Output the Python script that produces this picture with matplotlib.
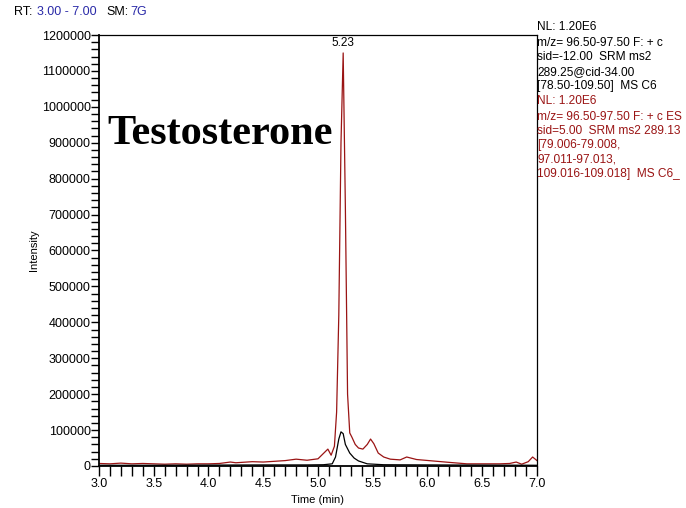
import numpy as np
import matplotlib.pyplot as plt
from matplotlib.ticker import MultipleLocator, FormatStrFormatter

# retention time (min) and intensity
t_red = [3.00, 3.10, 3.20, 3.30, 3.40, 3.50, 3.60, 3.70, 3.80, 3.90, 4.00, 4.10,
         4.20, 4.25, 4.30, 4.40, 4.50, 4.60, 4.70, 4.80, 4.90, 5.00, 5.05, 5.09,
         5.12, 5.15, 5.17, 5.19, 5.21, 5.23, 5.25, 5.27, 5.29, 5.31, 5.34, 5.37,
         5.41, 5.45, 5.48, 5.51, 5.55, 5.60, 5.66, 5.75, 5.81, 5.90, 6.05, 6.20,
         6.36, 6.50, 6.66, 6.75, 6.81, 6.86, 6.92, 6.96, 7.00]
i_red = [7000, 6000, 8000, 6000, 7000, 6000, 5000, 6000, 5000, 6000, 6000, 7000,
         11000, 9000, 10000, 12000, 11000, 13000, 15000, 19000, 16000, 20000, 35000, 47000,
         30000, 55000, 150000, 420000, 900000, 1150000, 720000, 200000, 92000, 80000, 60000, 50000,
         47000, 60000, 75000, 62000, 36000, 25000, 19000, 17000, 25000, 18000, 14000, 10000,
         6000, 6000, 6000, 7000, 11000, 5000, 12000, 25000, 15000]

t_blk = [3.00, 3.50, 4.00, 4.50, 4.90, 5.05, 5.13, 5.16, 5.19, 5.21, 5.23, 5.25,
         5.29, 5.33, 5.37, 5.45, 5.60, 6.00, 6.50, 7.00]
i_blk = [2000, 2000, 2500, 3000, 3000, 3500, 6000, 25000, 75000, 95000, 90000, 60000,
         36000, 22000, 14000, 6000, 3500, 3000, 2500, 2000]

peak_rt = 5.23
peak_val = 1150000

fig = plt.figure(figsize=(6.86, 5.08), dpi=100)
ax = fig.add_axes([0.1443, 0.0827, 0.6385, 0.8484])

red = '#9a1414'
ax.plot(t_red, i_red, color=red, lw=0.9)
ax.plot(t_blk, i_blk, color='black', lw=0.9)

ax.set_xlim(3.0, 7.0)
ax.set_ylim(0, 1200000)
ax.xaxis.set_major_locator(MultipleLocator(0.5))
ax.xaxis.set_minor_locator(MultipleLocator(0.1))
ax.yaxis.set_major_locator(MultipleLocator(100000))
ax.yaxis.set_minor_locator(MultipleLocator(20000))
ax.xaxis.set_major_formatter(FormatStrFormatter('%.1f'))
ax.yaxis.set_major_formatter(FormatStrFormatter('%d'))
ax.tick_params(which='both', direction='out', length=6, width=1, labelsize=9, pad=0)
ax.tick_params(axis='x', which='both', length=7, pad=2)
for s in ['left', 'bottom']:
    ax.spines[s].set_linewidth(1.3)
for s in ['top', 'right']:
    ax.spines[s].set_linewidth(0.9)
for lab in ax.get_xticklabels() + ax.get_yticklabels():
    lab.set_fontfamily('Liberation Sans')

ax.set_xlabel('Time (min)', fontsize=8, family='Liberation Sans', labelpad=3)
ax.set_ylabel('Intensity', fontsize=8, family='Liberation Sans', labelpad=2)

ax.annotate(f'{peak_rt:.2f}', (peak_rt, peak_val), xytext=(0, 3), textcoords='offset points',
            ha='center', va='bottom', fontsize=8.5, family='Liberation Sans')

ax.text(0.02, 0.77, 'Testosterone', transform=ax.transAxes, fontsize=30.5, fontweight='bold',
        family='Liberation Serif', va='center', ha='left')

hy = 1 - 12 / 508
fig.text(14 / 686, hy, 'RT:', fontsize=9, family='Liberation Sans', va='center')
fig.text(37 / 686, hy, '3.00 - 7.00', fontsize=9, family='Liberation Sans', va='center',
         color='#2a2aa8')
fig.text(106 / 686, hy, 'SM:', fontsize=9, family='Liberation Sans', va='center')
fig.text(130 / 686, hy, '7G', fontsize=9, family='Liberation Sans', va='center',
         color='#2a2aa8')

black_info = ['NL: 1.20E6', 'm/z= 96.50-97.50 F: + c', 'sid=-12.00  SRM ms2',
              '289.25@cid-34.00', '[78.50-109.50]  MS C6']
red_info = ['NL: 1.20E6', 'm/z= 96.50-97.50 F: + c ES', 'sid=5.00  SRM ms2 289.13',
            '[79.006-79.008,', '97.011-97.013,', '109.016-109.018]  MS C6_']
ys = [27, 43, 57, 72, 86, 101, 117, 131, 145, 159, 174]
for k, line in enumerate(black_info + red_info):
    fig.text(537 / 686, 1 - ys[k] / 508, line, fontsize=8.6, family='Liberation Sans',
             va='center', ha='left', color='black' if k < len(black_info) else red)

fig.savefig('out.png', dpi=100)
